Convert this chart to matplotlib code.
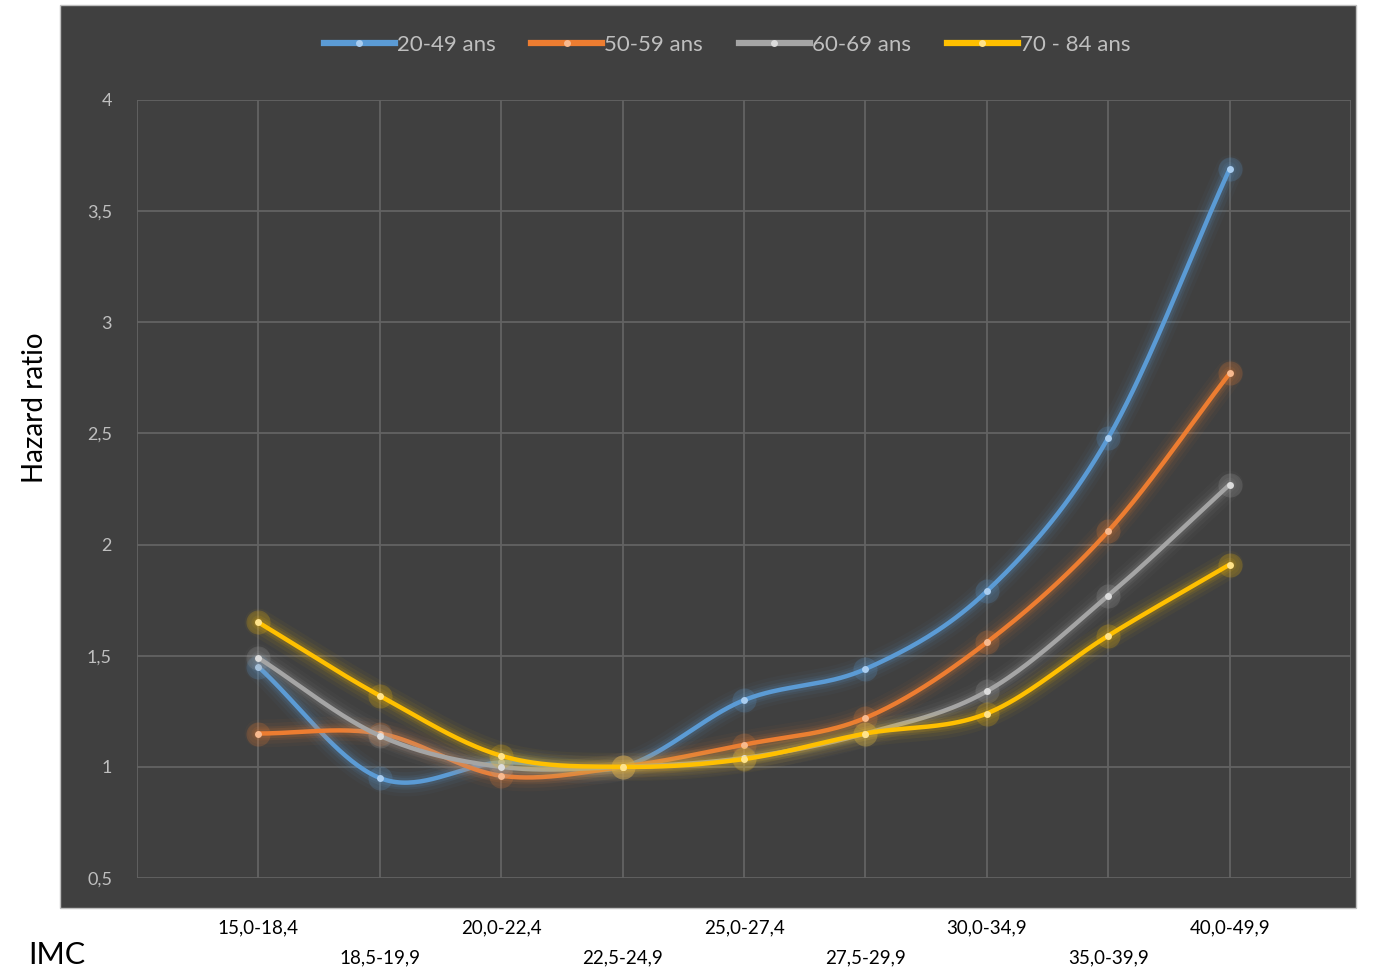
import numpy as np
import matplotlib.pyplot as plt
from matplotlib.patches import Rectangle
from matplotlib.lines import Line2D

# Hazard ratio par classe d'IMC et tranche d'âge
imc = ['15,0-18,4', '18,5-19,9', '20,0-22,4', '22,5-24,9', '25,0-27,4',
       '27,5-29,9', '30,0-34,9', '35,0-39,9', '40,0-49,9']
ages = ['20-49 ans', '50-59 ans', '60-69 ans', '70 - 84 ans']
hr_20_49 = [1.45, 0.95, 1.02, 1.00, 1.30, 1.44, 1.79, 2.48, 3.69]
hr_50_59 = [1.15, 1.15, 0.96, 1.00, 1.10, 1.22, 1.56, 2.06, 2.77]
hr_60_69 = [1.49, 1.14, 1.00, 1.00, 1.04, 1.15, 1.34, 1.77, 2.27]
hr_70_84 = [1.65, 1.32, 1.05, 1.00, 1.035, 1.15, 1.24, 1.59, 1.91]
series = [hr_20_49, hr_50_59, hr_60_69, hr_70_84]
colors = ['#5B9BD5', '#ED7D31', '#A5A5A5', '#FFC000']
marker_fc = ['#a9cdf0', '#f7b98f', '#dcdcdc', '#ffe38a']

plt.rcParams['font.family'] = ['Lato', 'DejaVu Sans']


def smooth(x, y, n=40):
    # catmull-rom curve through the points (like excel's smoothed lines)
    x = np.asarray(x, float)
    y = np.asarray(y, float)
    px = np.concatenate([[2 * x[0] - x[1]], x, [2 * x[-1] - x[-2]]])
    py = np.concatenate([[2 * y[0] - y[1]], y, [2 * y[-1] - y[-2]]])
    xs, ys = [], []
    t = np.linspace(0, 1, n)
    for i in range(1, len(px) - 2):
        for p, out in ((px, xs), (py, ys)):
            p0, p1, p2, p3 = p[i - 1], p[i], p[i + 1], p[i + 2]
            out.append(0.5 * (2 * p1 + (-p0 + p2) * t
                              + (2 * p0 - 5 * p1 + 4 * p2 - p3) * t ** 2
                              + (-p0 + 3 * p1 - 3 * p2 + p3) * t ** 3))
    return np.concatenate(xs), np.concatenate(ys)


W, H = 1389, 973
fig = plt.figure(figsize=(W / 100, H / 100), dpi=100)
fig.patch.set_facecolor('white')
fig.patches.append(Rectangle((60 / W, 1 - 908 / H), (1356 - 60) / W, (908 - 5) / H,
                             transform=fig.transFigure, facecolor='#404040',
                             edgecolor='#bfbfbf', lw=1, zorder=0))

ax = fig.add_axes([137 / W, 1 - 878 / H, (1351 - 137) / W, (878 - 100) / H])
ax.set_zorder(2)
ax.set_facecolor('#404040')
x = np.arange(1, len(imc) + 1)
ax.set_xlim(0, len(imc) + 1)
ax.set_ylim(0.5, 4)
ax.set_xticks(np.arange(0, len(imc) + 2))
ax.set_xticklabels([])
ax.set_yticks(np.arange(0.5, 4.01, 0.5))
ax.set_yticklabels([('%g' % v).replace('.', ',') for v in np.arange(0.5, 4.01, 0.5)],
                   color='#bfbfbf', fontsize=13)
ax.tick_params(length=0, pad=18)
ax.grid(True, color='#636363', lw=1.3)
for s in ax.spines.values():
    s.set_visible(False)

for k, (ys, c, fc) in enumerate(zip(series, colors, marker_fc)):
    sx, sy = smooth(x, ys)
    # soft glow around the lines
    for lw, a in ((20, 0.04), (15, 0.06), (10, 0.09), (7, 0.12)):
        ax.plot(sx, sy, color=c, lw=lw, alpha=a, solid_capstyle='round', zorder=2 + k)
    ax.scatter(x, ys, s=300, color=c, alpha=0.2, lw=0, zorder=2 + k)
    ax.plot(sx, sy, color=c, lw=3.2, solid_capstyle='round', zorder=3 + k)
    ax.plot(x, ys, 'o', ms=5, mfc=fc, mec='none', zorder=4 + k)

# staggered category labels below the panel
for i, lab in enumerate(imc):
    ypix = 928 if i % 2 == 0 else 958
    fig.text((137 + (i + 1) * 121.4) / W, 1 - ypix / H, lab, ha='center', va='center',
             fontsize=13.5, color='black')

fig.text(57 / W, 1 - 955 / H, 'IMC', ha='center', va='center', fontsize=22)
fig.text(35 / W, 1 - 408 / H, 'Hazard ratio', ha='center', va='center',
         fontsize=20, rotation=90)

handles = [Line2D([], [], color=c, lw=4.5, marker='o', ms=5, mfc=fc, mec='none')
           for c, fc in zip(colors, marker_fc)]
leg = fig.legend(handles, ages, loc='center', bbox_to_anchor=(727 / W, 1 - 45 / H),
                 ncol=4, frameon=False, fontsize=16, handlelength=3.2,
                 handletextpad=0.1, columnspacing=1.6, labelcolor='#bfbfbf')

fig.savefig('out.png', dpi=100)
